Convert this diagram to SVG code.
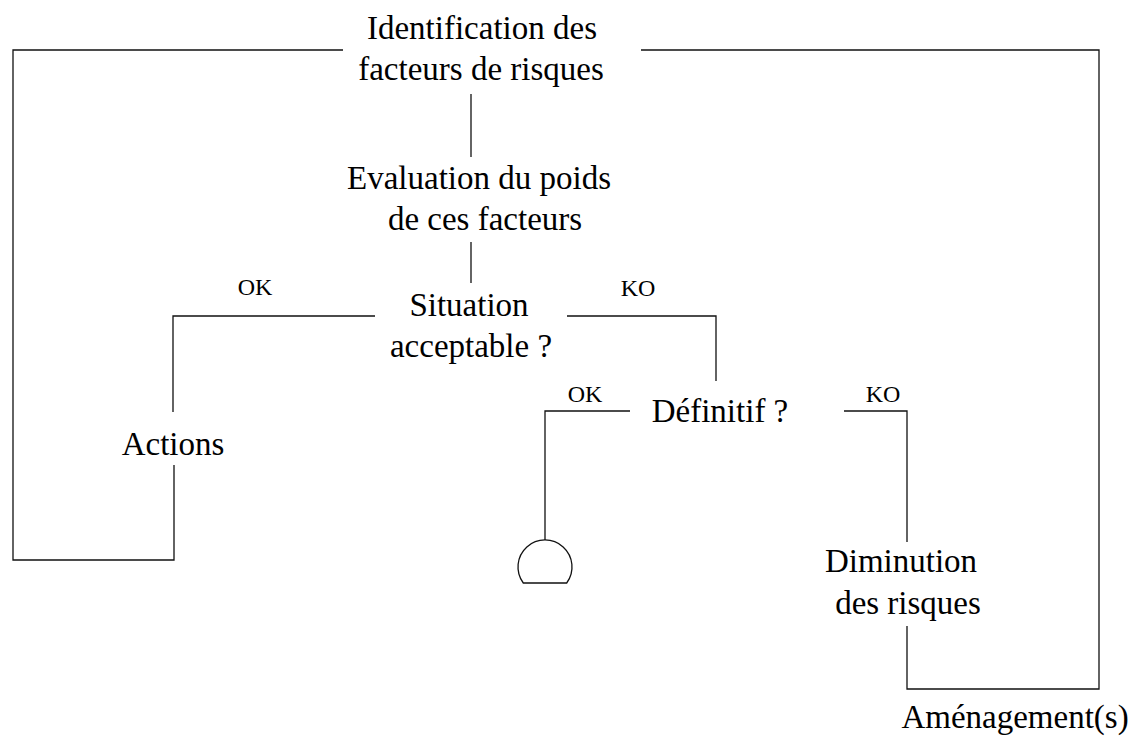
<svg xmlns="http://www.w3.org/2000/svg" width="1135" height="740" viewBox="0 0 1135 740">
  <style>
    .lbl { font-family: "Liberation Serif", "Times New Roman", serif; font-size: 33px; fill: #000; text-anchor: middle; }
    .tag { font-family: "Liberation Serif", "Times New Roman", serif; font-size: 24px; fill: #000; text-anchor: middle; }
    .ln { fill: none; stroke: #111; stroke-width: 1.3; }
  </style>
  <rect width="1135" height="740" fill="#fff"/>

  <!-- connectors -->
  <g id="connectors" class="ln">
    <!-- loop back from Actions to the top -->
    <polyline points="343,50 13,50 13,560 174,560 174,465"/>
    <!-- loop back from Diminution to the top -->
    <polyline points="641,50 1099,50 1099,689 907,689 907,626"/>
    <!-- main trunk -->
    <line x1="471" y1="94" x2="471" y2="157"/>
    <line x1="471" y1="242" x2="471" y2="283"/>
    <!-- Situation acceptable ? branches -->
    <polyline points="375,316 173,316 173,412"/>
    <polyline points="567,316 716,316 716,381"/>
    <!-- Définitif ? branches -->
    <polyline points="630,411 545,411 545,540"/>
    <polyline points="844,411 907,411 907,542"/>
  </g>

  <g id="identification">
    <text class="lbl" x="482" y="39">Identification des</text>
    <text class="lbl" x="481" y="80">facteurs de risques</text>
  </g>
  <g id="evaluation">
    <text class="lbl" x="479" y="189">Evaluation du poids</text>
    <text class="lbl" x="485" y="230">de ces facteurs</text>
  </g>
  <g id="situation">
    <text class="lbl" x="469" y="316">Situation</text>
    <text class="lbl" x="471" y="357">acceptable ?</text>
  </g>
  <g id="actions">
    <text class="lbl" x="173" y="455">Actions</text>
  </g>
  <g id="definitif">
    <text class="lbl" x="720" y="422">Définitif ?</text>
  </g>
  <g id="fin">
    <path class="ln" d="M523.3,583 A27,27 0 1 1 566.7,583 Z"/>
  </g>
  <g id="diminution">
    <text class="lbl" x="901" y="572">Diminution</text>
    <text class="lbl" x="908" y="614">des risques</text>
  </g>
  <g id="amenagement">
    <text class="lbl" x="1015" y="728">Aménagement(s)</text>
  </g>

  <g id="tags">
    <text class="tag" x="255" y="295">OK</text>
    <text class="tag" x="638" y="296">KO</text>
    <text class="tag" x="585" y="402">OK</text>
    <text class="tag" x="883" y="402">KO</text>
  </g>
</svg>
